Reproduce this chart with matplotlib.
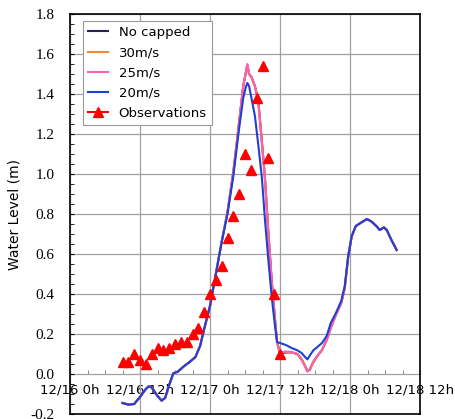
import matplotlib
matplotlib.use("Agg")
import matplotlib.pyplot as plt
from matplotlib.lines import Line2D
from matplotlib.ticker import MultipleLocator

# hours since 12/16 0h
hours = [9, 10, 11, 12, 13, 13.5, 14, 15, 15.7, 16.3, 17, 17.7, 18.5, 19.5, 20.5,
         21.5, 22.3, 23, 24, 25, 26, 27, 28, 29, 29.7, 30.1, 30.4, 30.7, 31.1,
         31.7, 32.3, 32.9, 33.4, 34, 34.6, 35.1, 35.5, 36, 37, 38, 39, 39.7,
         40.3, 40.7, 41.1, 41.7, 42.4, 43.2, 44, 44.7, 45.5, 46.5, 47.1, 47.7,
         48.3, 49, 49.8, 50.9, 51.7, 52.6, 53.1, 53.8, 54.3, 55.1, 56]

# part before the surge, shared by all runs (hours 9 .. 26)
early = [-0.145, -0.153, -0.15, -0.115, -0.075, -0.062, -0.067, -0.11, -0.133,
         -0.12, -0.055, 0.003, 0.012, 0.038, 0.06, 0.085, 0.14, 0.225, 0.34,
         0.50, 0.66]
# part after the second rise, shared by all runs (hours 49 .. 56)
late = [0.74, 0.755, 0.775, 0.762, 0.737, 0.72, 0.733, 0.72, 0.67, 0.62]

wl_20 = early + [0.80, 0.99, 1.23, 1.38, 1.43, 1.455, 1.44, 1.38, 1.29, 1.14,
                 0.98, 0.78, 0.57, 0.38, 0.25, 0.16, 0.155, 0.145, 0.13, 0.118,
                 0.105, 0.085, 0.073, 0.092, 0.118, 0.135, 0.155, 0.19, 0.255,
                 0.30, 0.365, 0.44, 0.59, 0.69] + late
wl_25 = early + [0.81, 1.01, 1.26, 1.44, 1.50, 1.55, 1.50, 1.487, 1.437, 1.35,
                 1.15, 0.98, 0.70, 0.45, 0.28, 0.16, 0.107, 0.112, 0.11, 0.098,
                 0.07, 0.037, 0.012, 0.02, 0.058, 0.09, 0.12, 0.17, 0.23,
                 0.29, 0.355, 0.43, 0.59, 0.69] + late
wl_30 = early + [0.81, 1.01, 1.26, 1.44, 1.50, 1.545, 1.50, 1.485, 1.44, 1.36,
                 1.16, 0.99, 0.71, 0.46, 0.29, 0.16, 0.105, 0.11, 0.108, 0.10,
                 0.075, 0.04, 0.015, 0.022, 0.06, 0.09, 0.12, 0.17, 0.23,
                 0.29, 0.355, 0.43, 0.59, 0.69] + late
wl_nocap = early + [0.81, 1.01, 1.26, 1.44, 1.50, 1.545, 1.50, 1.485, 1.44, 1.36,
                    1.16, 0.99, 0.71, 0.46, 0.29, 0.16, 0.10, 0.108, 0.108, 0.10,
                    0.075, 0.04, 0.015, 0.022, 0.06, 0.09, 0.12, 0.17, 0.23,
                    0.29, 0.355, 0.43, 0.59, 0.69] + late

obs_hours = list(range(9, 37))
obs_level = [0.06, 0.06, 0.10, 0.07, 0.05, 0.10, 0.13, 0.12, 0.13, 0.15, 0.16,
             0.16, 0.20, 0.23, 0.31, 0.40, 0.47, 0.54, 0.68, 0.79, 0.90, 1.10,
             1.02, 1.38, 1.54, 1.08, 0.40, 0.10]

xtick_labels = ["12/16 0h", "12/16 12h", "12/17 0h", "12/17 12h", "12/18 0h", "12/18 12h"]

fig = plt.figure(figsize=(4.56, 4.19), dpi=100)
ax = fig.add_axes([70 / 456, 5 / 419, 350 / 456, 400 / 419])

ax.plot(hours, wl_nocap, color="#2b2055", lw=1.5, label="No capped")
ax.plot(hours, wl_30, color="#f08838", lw=1.5, label="30m/s")
ax.plot(hours, wl_25, color="#ff5fae", lw=1.5, label="25m/s")
ax.plot(hours, wl_20, color="#1f40d0", lw=1.5, label="20m/s")
ax.plot(obs_hours, obs_level, ls="none", marker="^", ms=7, color="red")

ax.set_xlim(0, 60)
ax.set_ylim(-0.2, 1.8)
ax.yaxis.set_major_locator(MultipleLocator(0.2))
ax.yaxis.set_minor_locator(MultipleLocator(0.05))
ax.set_yticklabels([f"{v:.1f}" for v in ax.get_yticks()], family="Liberation Serif", fontsize=11)
ax.tick_params(axis="y", which="both", direction="in", length=3, pad=11)
ax.xaxis.set_major_locator(MultipleLocator(12))
ax.tick_params(axis="x", which="both", bottom=False, labelbottom=False)
ax.grid(True, color="#a0a0a0", lw=0.9)
for s in ax.spines.values():
    s.set_linewidth(1.2)

# x labels sit on the zero line
sec = ax.secondary_xaxis(0.1)
sec.xaxis.set_minor_locator(MultipleLocator(3))
sec.set_xticks(range(0, 61, 12), xtick_labels, fontsize=9.5)
sec.tick_params(which="both", direction="in", length=3, color="#777777", pad=7)
sec.spines["bottom"].set_visible(False)

ax.set_ylabel("Water Level (m)", fontsize=10)
ax.yaxis.set_label_coords(-48 / 350, 0.5)

handles, labels = ax.get_legend_handles_labels()
handles.append(Line2D([], [], color="red", marker="^", ms=7, lw=1.5))
labels.append("Observations")
leg = ax.legend(handles, labels, loc="upper left", bbox_to_anchor=(13 / 350, 0.983),
                borderaxespad=0, fontsize=9.5, fancybox=False, edgecolor="#999999",
                framealpha=1, handlelength=1.5, borderpad=0.4, labelspacing=0.55)
leg.get_frame().set_linewidth(0.8)

fig.savefig("out.png", dpi=100)
